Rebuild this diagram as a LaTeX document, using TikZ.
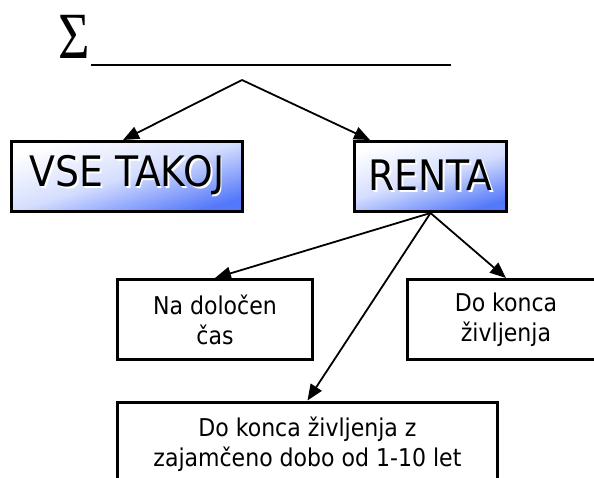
\documentclass[tikz,border=0pt]{standalone}
\usepackage{fontspec}
\setmainfont{DejaVu Sans Condensed}
\newfontfamily\sigmafont{Liberation Serif}
\usetikzlibrary{arrows.meta}

\definecolor{optblue}{RGB}{84,120,250}

% text with a white copy set slightly lower right
\newcommand{\litext}[1]{\makebox[0pt][l]{\hspace{1.8pt}\raisebox{-1.8pt}{\textcolor{white}{#1}}}#1}

\begin{document}
\begin{tikzpicture}[
    x=1pt, y=-1pt,
    optbox/.style={rectangle, draw=black, line width=3pt, minimum height=70pt, align=center, inner sep=0pt,
                   top color=white, bottom color=optblue, middle color=optblue!25, shading angle=17,
                   font=\fontsize{42}{48}\selectfont},
    subbox/.style={rectangle, draw=black, line width=3pt, minimum height=80pt, align=center, inner sep=0pt,
                   font=\fontsize{24.5}{30}\selectfont},
    arrow/.style={-{Triangle[length=16pt, width=13pt]}, line width=1.8pt}
]
\useasboundingbox (0,0) rectangle (594,477);

% Top: sum and blank
\node[inner sep=0pt, xscale=0.82, font=\sigmafont\fontsize{66}{66}\selectfont] (sigma) at (74,36.5) {Σ};
\node[anchor=south west, minimum width=360pt, minimum height=0pt, inner sep=0pt] (blank) at (91,65) {};
\draw[line width=1.8pt] (blank.south west) -- (blank.south east);
\coordinate (split) at (242,80);

% Payout options
\node[optbox, minimum width=231pt] (vse) at (127,176.5) {\litext{VSE TAKOJ}};
\node[optbox, minimum width=152pt] (renta) at (430.5,176.5) {\litext{RENTA}};

% Kinds of annuity
\node[subbox, minimum width=195pt] (nadoloc) at (215,319.5) {Na določen\\čas};
\node[subbox, minimum width=197pt] (dokonca) at (506,319.5) {Do konca\\življenja};
\node[subbox, minimum width=380pt, minimum height=84pt] (zajam) at (307.5,444) {Do konca življenja z\\zajamčeno dobo od 1-10 let};

% Arrows
\draw[arrow] (split) -- ([xshift=-4pt]vse.north);
\draw[arrow] (split) -- ([xshift=17pt]renta.north west);
\draw[arrow] (renta.south) -- (nadoloc.north);
\draw[arrow] (renta.south) -- (dokonca.north);
\draw[arrow] (renta.south) -- (zajam.north);

\end{tikzpicture}
\end{document}
